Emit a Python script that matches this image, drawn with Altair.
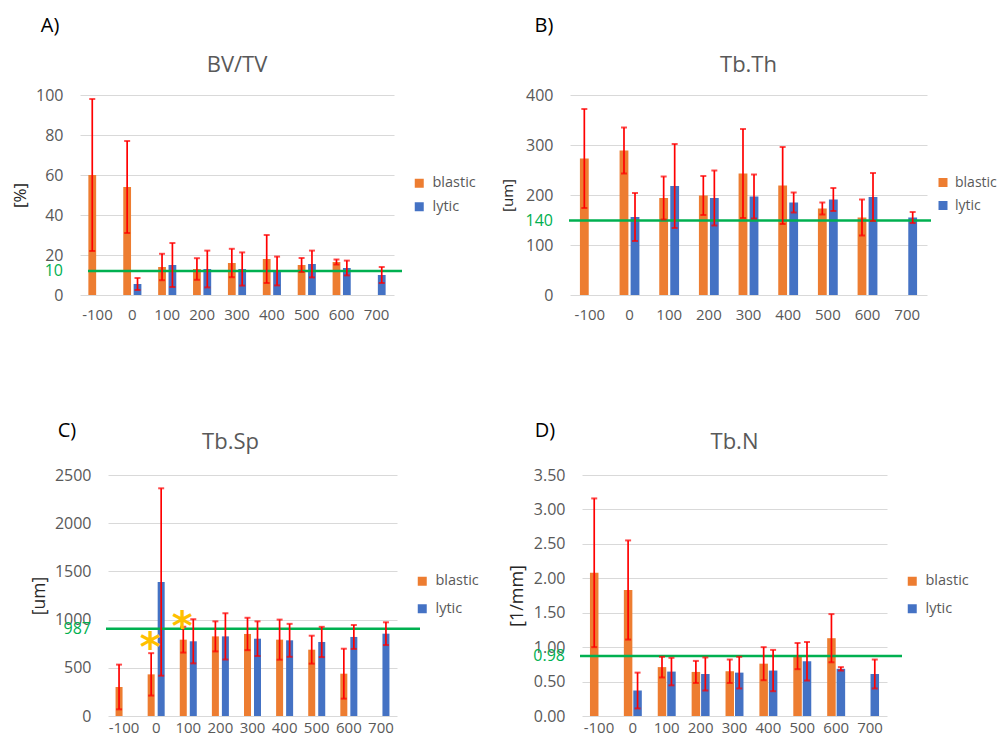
import altair as alt
import pandas as pd

categories = ["-100", "0", "100", "200", "300", "400", "500", "600", "700"]
series = ["blastic", "lytic"]
series_colors = ["#ED7D31", "#4472C4"]

# BV/TV [%]
bvtv_blastic = [60, 54, 14, 13, 16, 18, 15, 16.5, None]
bvtv_blastic_sd = [38, 23, 6.6, 5.4, 7.1, 12, 3.5, 1.3, None]
bvtv_lytic = [None, 5.5, 15, 13, 13, 12, 15.5, 13.5, 10]
bvtv_lytic_sd = [None, 3, 11, 9.2, 8.3, 7.2, 6.7, 3.7, 4]

# Tb.Th [um]
tbth_blastic = [273, 289, 194, 199, 243, 219, 173, 155, None]
tbth_blastic_sd = [99, 46, 43, 39, 89, 77, 12, 36, None]
tbth_lytic = [None, 156, 218, 194, 197, 185, 191, 196, 155]
tbth_lytic_sd = [None, 48, 84, 55, 44, 20, 23, 48, 11]

# Tb.Sp [um]
tbsp_blastic = [301, 432, 792, 826, 851, 792, 688, 439, None]
tbsp_blastic_sd = [232, 220, 134, 156, 168, 208, 145, 259, None]
tbsp_lytic = [None, 1390, 775, 826, 802, 785, 768, 820, 854]
tbsp_lytic_sd = [None, 972, 229, 240, 180, 171, 157, 124, 118]

# Tb.N [1/mm]
tbn_blastic = [2.08, 1.83, 0.71, 0.64, 0.65, 0.76, 0.87, 1.13, None]
tbn_blastic_sd = [1.08, 0.72, 0.15, 0.16, 0.17, 0.24, 0.19, 0.35, None]
tbn_lytic = [None, 0.37, 0.645, 0.61, 0.63, 0.66, 0.795, 0.685, 0.61]
tbn_lytic_sd = [None, 0.26, 0.2, 0.24, 0.23, 0.3, 0.28, 0.025, 0.21]

# reference (green) lines: drawn value and printed label
ref_values = [12, 149, 906, 0.873]
ref_labels = ["10", "140", "987", "0.98"]

# significance asterisks on Tb.Sp
star_categories = ["0", "100"]
star_values = [799, 1013]

FONT = "Open Sans"
GRAY = "#595959"
GREEN = "#00B050"
ONE = pd.DataFrame({"k": [0]})


def long_df(b, bsd, l, lsd):
    rows = []
    for name, vals, sds in (("blastic", b, bsd), ("lytic", l, lsd)):
        for cat, v, s in zip(categories, vals, sds):
            if v is None:
                continue
            rows.append(dict(category=cat, series=name, value=v, lo=v - s, hi=v + s))
    return pd.DataFrame(rows)


def frame(x1, x2, y1, y2):
    # invisible box that fixes the layout extent of a panel
    return alt.Chart(ONE).mark_rect(opacity=0).encode(
        x=alt.value(x1), x2=alt.value(x2), y=alt.value(y1), y2=alt.value(y2))


def panel(df, ref, ref_label, title, letter, ytitle, ymax, yticks, fmt, w, h, st):
    xscale = alt.Scale(domain=categories, paddingInner=st["pi"], paddingOuter=st["pi"] / 2)
    xaxis = alt.Axis(title=None, labelAngle=0, ticks=False, domain=False, labelPadding=st["xlp"],
                     labelFontSize=15, labelFont=FONT, labelColor=GRAY, labelOverlap=False)
    x = alt.X("category:N", sort=categories, scale=xscale, axis=xaxis)
    xo = alt.XOffset("series:N", scale=alt.Scale(domain=series, paddingInner=st["opi"]))
    yscale = alt.Scale(domain=[0, ymax], nice=False, zero=True)
    yaxis = alt.Axis(values=yticks, format=fmt, grid=True, gridColor="#D9D9D9", gridWidth=1,
                     domain=False, ticks=False, labelPadding=17, labelFontSize=16,
                     labelFont=FONT, labelColor=GRAY, title=ytitle, titleFont=FONT,
                     titleFontSize=st["tfs"], titleFontWeight="normal", titleColor="#262626",
                     titleX=st["tx"], titleY=h / 2, titleAlign="center", titleBaseline="middle")

    def Y(field):
        return alt.Y(field, scale=yscale, axis=yaxis)

    base = alt.Chart(df)
    bars = base.mark_bar().encode(
        x=x, xOffset=xo, y=Y("value:Q"),
        color=alt.Color("series:N", scale=alt.Scale(domain=series, range=series_colors),
                        legend=alt.Legend(title=None, orient="none", legendX=w + st["lgx"],
                                          legendY=st["ly"], symbolType="square", symbolSize=81,
                                          symbolStrokeWidth=0, labelFontSize=st["lfs"],
                                          labelFont=FONT, labelColor=GRAY, labelOffset=st["lo"],
                                          rowPadding=st["rp"], padding=0)),
    )
    ref_df = pd.DataFrame({"ref": [ref], "label": [ref_label]})
    green = alt.Chart(ref_df).mark_rule(color=GREEN, strokeWidth=2.5).encode(
        y=Y("ref:Q"), x=alt.value(st["g0"]), x2=alt.value(w + st["g1"]))
    green_txt = alt.Chart(ref_df).mark_text(align="right", baseline="middle", fontSize=16,
                                            font=FONT, color=GREEN).encode(
        y=Y("ref:Q"), x=alt.value(-17), text="label:N")
    err = base.mark_rule(color="#FF0000", strokeWidth=1.7).encode(
        x=x, xOffset=xo, y=Y("lo:Q"), y2="hi:Q")
    cap_lo = base.mark_tick(color="#FF0000", orient="horizontal", size=6, thickness=2).encode(
        x=x, xOffset=xo, y=Y("lo:Q"))
    cap_hi = base.mark_tick(color="#FF0000", orient="horizontal", size=6, thickness=2).encode(
        x=x, xOffset=xo, y=Y("hi:Q"))
    ttl = alt.Chart(pd.DataFrame({"t": [title]})).mark_text(
        fontSize=22, font=FONT, color=GRAY, baseline="middle", align="center").encode(
        text="t:N", x=alt.value(w / 2 + st["tdx"]), y=alt.value(st["ty"]))
    let = alt.Chart(pd.DataFrame({"t": [letter]})).mark_text(
        fontSize=20, font=FONT, color="#000000", baseline="middle", align="center").encode(
        text="t:N", x=alt.value(st["lx"]), y=alt.value(st["lyy"]))
    layers = [frame(*st["frame"]), bars, green, err, cap_lo, cap_hi, green_txt, ttl, let]
    if st.get("stars"):
        sdf = pd.DataFrame({"category": star_categories, "series": ["blastic"] * 2,
                            "value": star_values, "s": ["*"] * 2})
        stars = alt.Chart(sdf).mark_text(fontSize=40, font="DejaVu Sans", fontWeight="bold",
                                         color="#FFC000", baseline="alphabetic", dy=22, dx=-1).encode(
            x=x, xOffset=xo, y=Y("value:Q"), text="s:N")
        layers.append(stars)
    return alt.layer(*layers).properties(width=w, height=h)


def spacer(w):
    return alt.Chart(ONE).mark_rect(opacity=0).encode(
        x=alt.value(0), x2=alt.value(w), y=alt.value(0), y2=alt.value(1)
    ).properties(width=w, height=1)


A = panel(long_df(bvtv_blastic, bvtv_blastic_sd, bvtv_lytic, bvtv_lytic_sd),
          ref_values[0], ref_labels[0], "BV/TV", "A)", "[%]", 100, [0, 20, 40, 60, 80, 100], "d",
          314, 200, dict(pi=0.48, opi=0.25, tfs=17, tx=-60, ly=81, rp=8.5, g0=8, g1=8,
                         tdx=0, ty=-30, lx=-30, lyy=-69, xlp=12, lgx=18, lfs=14.5, lo=6,
                         frame=(-71, 410, -80, 305)))
B = panel(long_df(tbth_blastic, tbth_blastic_sd, tbth_lytic, tbth_lytic_sd),
          ref_values[1], ref_labels[1], "Tb.Th", "B)", "[um]", 400, [0, 100, 200, 300, 400], "d",
          357, 200, dict(pi=0.5, opi=0.2, tfs=15, tx=-63, ly=80.5, rp=9, g0=-1, g1=4,
                         tdx=0, ty=-30, lx=-26, lyy=-69, xlp=12, lgx=9, lfs=14, lo=5,
                         frame=(-80, 380, -80, 305)))
C = panel(long_df(tbsp_blastic, tbsp_blastic_sd, tbsp_lytic, tbsp_lytic_sd),
          ref_values[2], ref_labels[2], "Tb.Sp", "C)", "[um]", 2500,
          [0, 500, 1000, 1500, 2000, 2500], "d",
          289, 241, dict(pi=0.47, opi=0.3, tfs=17.5, tx=-69, ly=99, rp=12.5, g0=-2, g1=23,
                         tdx=-22, ty=-33, lx=-41, lyy=-44, stars=True, xlp=4, lgx=18,
                         lfs=14.5, lo=6, frame=(-80, 390, -75, 250)))
D = panel(long_df(tbn_blastic, tbn_blastic_sd, tbn_lytic, tbn_lytic_sd),
          ref_values[3], ref_labels[3], "Tb.N", "D)", "[1/mm]", 3.5,
          [0, 0.5, 1, 1.5, 2, 2.5, 3, 3.5], ".2f",
          305, 241, dict(pi=0.47, opi=0.1, tfs=18, tx=-65, ly=99, rp=12.5, g0=-2, g1=15,
                         tdx=0, ty=-33, lx=-37, lyy=-44, xlp=4, lgx=18, lfs=14.5, lo=6,
                         frame=(-84, 400, -75, 250)))

RES = dict(color="independent", xOffset="independent")
top = alt.hconcat(spacer(1), A, B, spacing=0).resolve_scale(**RES)
bottom = alt.hconcat(spacer(20), C, D, spacing=0).resolve_scale(**RES)
chart = alt.vconcat(top, bottom, spacing=0).resolve_scale(**RES).properties(
    autosize=alt.AutoSizeParams(type="none"),
    padding={"left": 0, "top": 87, "right": 990, "bottom": 642},
).configure_view(strokeWidth=0)

chart.save("out.html", embed_options={"renderer": "svg", "actions": False})
